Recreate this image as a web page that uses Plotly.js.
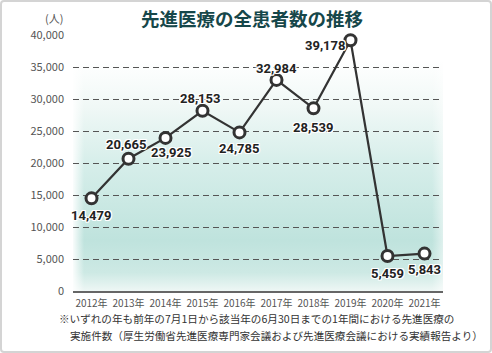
<!DOCTYPE html>
<html><head><meta charset="utf-8">
<script src="https://cdn.plot.ly/plotly-3.0.1.min.js"></script>
<style>
html,body{margin:0;padding:0;background:#fff;}
#wrap{position:relative;width:492px;height:353px;}
#chart{width:492px;height:353px;}
#frame{position:absolute;left:0;top:0;width:492px;height:353px;box-sizing:border-box;border:2px solid #d4d4d4;border-radius:4px;pointer-events:none;}
</style></head>
<body>
<div id="wrap"><div id="chart"></div><div id="frame"></div></div>
<script>
const years = ["2012年","2013年","2014年","2015年","2016年","2017年","2018年","2019年","2020年","2021年"];
const patients = [14479, 20665, 23925, 28153, 24785, 32984, 28539, 39178, 5459, 5843];
const yTicks = [0,5000,10000,15000,20000,25000,30000,35000,40000];
const labelOffsets = [[0,17],[-2,-14],[6,15],[-2,-12],[0,16],[0,-11],[0,19],[-25,5],[0,17],[0,16]];
const title = "先進医療の全患者数の推移";
const noteLines = [
  "※いずれの年も前年の7月1日から該当年の6月30日までの1年間における先進医療の",
  "実施件数（厚生労働省先進医療専門家会議および先進医療会議における実績報告より）"
];

const idx = years.map((_, i) => i);

const gradSvg = `<svg xmlns="http://www.w3.org/2000/svg" width="400" height="300" viewBox="0 0 400 300" preserveAspectRatio="none">
<defs>
<linearGradient id="g" x1="0" y1="0" x2="0" y2="1">
<stop offset="0" stop-color="#ffffff"/>
<stop offset="0.2" stop-color="#f0f8f6"/>
<stop offset="0.45" stop-color="#d6eeea"/>
<stop offset="0.78" stop-color="#bfe3dd"/>
<stop offset="0.92" stop-color="#cde9e4"/>
<stop offset="1" stop-color="#eef7f5"/>
</linearGradient>
<linearGradient id="h" x1="0" y1="0" x2="1" y2="0">
<stop offset="0" stop-color="#ffffff" stop-opacity="0.9"/>
<stop offset="0.03" stop-color="#ffffff" stop-opacity="0"/>
<stop offset="0.97" stop-color="#ffffff" stop-opacity="0"/>
<stop offset="1" stop-color="#ffffff" stop-opacity="0.5"/>
</linearGradient>
</defs>
<rect width="400" height="300" fill="url(#g)"/>
<rect width="400" height="300" fill="url(#h)"/>
</svg>`;
const gradUri = "data:image/svg+xml;base64," + btoa(gradSvg);

const shadow = "1px 1px 0 #fff, -1px -1px 0 #fff, 1px -1px 0 #fff, -1px 1px 0 #fff, 0 1px 0 #fff, 0 -1px 0 #fff, 1px 0 0 #fff, -1px 0 0 #fff";

const annotations = patients.map((v, i) => ({
  x: i, y: v, xref: "x", yref: "y",
  text: v.toLocaleString("en-US"),
  showarrow: true, arrowcolor: "rgba(0,0,0,0)", arrowwidth: 0.1,
  ax: labelOffsets[i][0], ay: labelOffsets[i][1],
  font: {family: "Roboto", size: 13, color: "#222", weight: 700, shadow: shadow},
  xanchor: "center", yanchor: "middle"
}));
annotations.push({
  xref: "paper", yref: "paper", x: 0.485, y: 1, yshift: 17, xanchor: "center", yanchor: "middle",
  text: title, showarrow: false,
  font: {family: "Noto Sans CJK JP", size: 18.5, color: "#16474a", weight: 700}
});
annotations.push({
  xref: "paper", yref: "paper", x: -0.022, y: 1, yshift: 17, xanchor: "right", yanchor: "middle",
  text: "(人)", showarrow: false,
  font: {family: "Noto Sans CJK JP", size: 11, color: "#555"}
});
annotations.push({
  xref: "paper", yref: "paper", x: -0.043, y: 0, yshift: -27, xanchor: "left", yanchor: "middle", align: "left",
  text: noteLines[0], showarrow: false,
  font: {family: "Noto Sans CJK JP", size: 10.6, color: "#333"}
});
annotations.push({
  xref: "paper", yref: "paper", x: -0.014, y: 0, yshift: -44, xanchor: "left", yanchor: "middle", align: "left",
  text: noteLines[1], showarrow: false,
  font: {family: "Noto Sans CJK JP", size: 10.6, color: "#333"}
});

const shapes = [];
for (let i = 0; i < years.length - 1; i++) {
  shapes.push({type: "line", xref: "x", yref: "y", x0: i + 0.5, x1: i + 0.5, y0: 0, y1: 33000,
    line: {color: "rgba(255,255,255,0.75)", width: 1}, layer: "below"});
}

const trace = {
  x: idx, y: patients, type: "scatter", mode: "lines+markers",
  line: {color: "#333333", width: 2.2},
  marker: {size: 11, color: "#ffffff", line: {color: "#333333", width: 3}},
  hoverinfo: "skip", cliponaxis: false
};

const layout = {
  width: 492, height: 353,
  margin: {l: 73, r: 49, t: 35, b: 62},
  paper_bgcolor: "#fff", plot_bgcolor: "rgba(0,0,0,0)",
  showlegend: false,
  xaxis: {
    range: [-0.5, 9.5], tickvals: idx, ticktext: years, showgrid: false, zeroline: false,
    showline: true, linecolor: "#666", linewidth: 1.5, ticks: "", fixedrange: true,
    ticklabelstandoff: 2,
    tickfont: {family: "Noto Sans CJK JP", size: 10, color: "#555"}
  },
  yaxis: {
    range: [0, 40000], tickvals: yTicks, tickformat: ",d", showgrid: true,
    gridcolor: "#555", griddash: "6px,4px", gridwidth: 1, zeroline: false, showline: false,
    ticks: "", ticklabelstandoff: 8, fixedrange: true,
    tickfont: {family: "Noto Sans CJK JP", size: 11, color: "#555"}
  },
  images: [{source: gradUri, xref: "x", yref: "y", x: -0.5, y: 36000, sizex: 10, sizey: 36000,
    sizing: "stretch", layer: "below", xanchor: "left", yanchor: "top"}],
  shapes: shapes,
  annotations: annotations
};

Plotly.newPlot("chart", [trace], layout, {displayModeBar: false, staticPlot: true});
</script>
</body></html>
